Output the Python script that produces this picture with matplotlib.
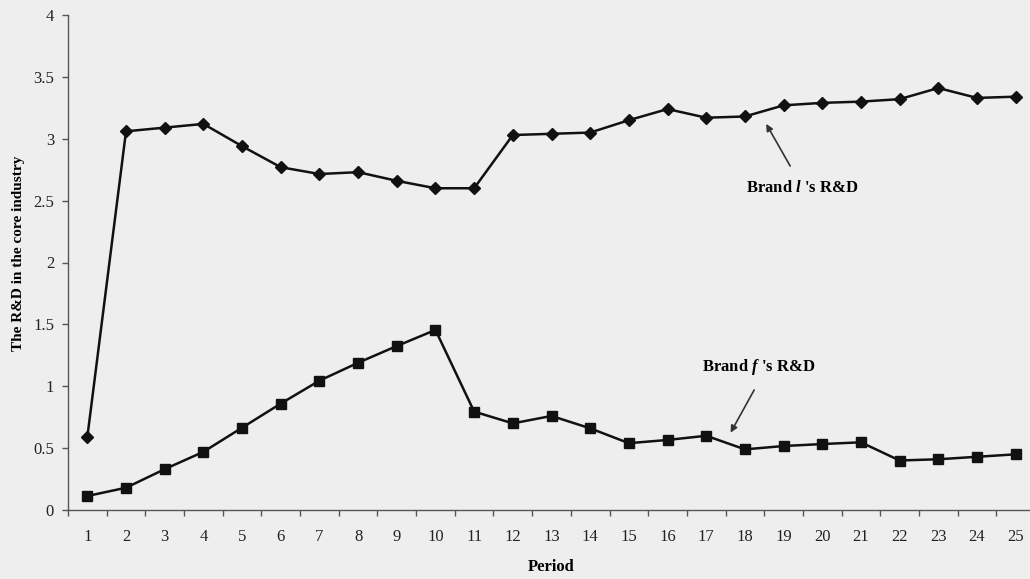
import matplotlib.pyplot as plt
import numpy as np

plt.rcParams['font.family'] = ['Liberation Serif', 'DejaVu Serif']
plt.rcParams['mathtext.fontset'] = 'custom'
plt.rcParams['mathtext.it'] = 'Liberation Serif:bold:italic'
plt.rcParams['mathtext.rm'] = 'Liberation Serif:bold'

periods = list(range(1, 26))
brand_l = [0.59, 3.06, 3.09, 3.12, 2.94, 2.77, 2.715, 2.73, 2.66, 2.60, 2.60, 3.03, 3.04,
           3.05, 3.15, 3.24, 3.17, 3.18, 3.27, 3.29, 3.30, 3.32, 3.41, 3.33, 3.34]
brand_f = [0.113, 0.18, 0.33, 0.47, 0.665, 0.86, 1.045, 1.19, 1.325, 1.455, 0.795, 0.70, 0.76,
           0.66, 0.54, 0.566, 0.60, 0.49, 0.517, 0.533, 0.547, 0.40, 0.41, 0.43, 0.45]
yticks = [0, 0.5, 1, 1.5, 2, 2.5, 3, 3.5, 4]
ytick_labels = ['0', '0.5', '1', '1.5', '2', '2.5', '3', '3.5', '4']

bg = '#eeeeee'
fig = plt.figure(figsize=(10.30, 5.79), dpi=100, facecolor=bg)
ax = fig.add_axes([68 / 1030, 69 / 579, 967 / 1030, 495 / 579])
ax.set_facecolor(bg)

ax.plot(periods, brand_l, color='#111111', lw=1.8, marker='D', ms=6, zorder=3)
ax.plot(periods, brand_f, color='#111111', lw=1.8, marker='s', ms=7.5, zorder=3)

ax.set_xlim(0.5, 25.5)
ax.set_ylim(0, 4)
ax.set_yticks(yticks)
ax.set_yticklabels(ytick_labels)
ax.set_xticks(periods)
ax.set_xticks(np.arange(0.5, 26, 1), minor=True)
ax.tick_params(axis='x', which='major', length=0, pad=14, labelsize=12, colors='#222222')
ax.tick_params(axis='x', which='minor', length=4, width=1, color='#555555', direction='out')
ax.tick_params(axis='y', length=4, width=1, color='#555555', labelsize=12, labelcolor='#222222', pad=6)

for s in ['top', 'right']:
    ax.spines[s].set_visible(False)
for s in ['left', 'bottom']:
    ax.spines[s].set_color('#555555')
    ax.spines[s].set_linewidth(1)

ax.set_xlabel('Period', fontsize=12, fontweight='bold', labelpad=10)
ax.set_ylabel('The R&D in the core industry', fontsize=11, fontweight='bold')
ax.yaxis.set_label_coords(-0.0445, 0.519)

# annotation texts and arrows
ax.text(19.48, 2.60, "Brand $\\mathit{l}$ 's R&D", fontsize=12, fontweight='bold',
        ha='center', va='center')
ax.annotate('', xy=(18.55, 3.12), xytext=(19.17, 2.78),
            arrowprops=dict(arrowstyle='-|>', color='#333333', lw=1.2,
                            mutation_scale=10, shrinkA=0, shrinkB=0))
ax.text(18.36, 1.158, "Brand $\\mathit{f}$ 's R&D", fontsize=12, fontweight='bold',
        ha='center', va='center')
ax.annotate('', xy=(17.63, 0.625), xytext=(18.24, 0.97),
            arrowprops=dict(arrowstyle='-|>', color='#333333', lw=1.2,
                            mutation_scale=10, shrinkA=0, shrinkB=0))

fig.savefig('out.png', dpi=100, facecolor=bg)
